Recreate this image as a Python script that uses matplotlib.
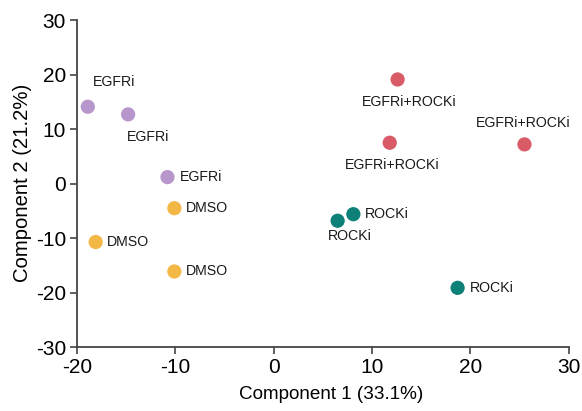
import matplotlib
matplotlib.use("Agg")
import matplotlib.pyplot as plt

plt.rcParams['font.family'] = ['Liberation Sans', 'DejaVu Sans']
plt.rcParams['axes.unicode_minus'] = False

# Data
groups = ["EGFRi", "DMSO", "EGFRi+ROCKi", "ROCKi"]
colors = {"EGFRi": "#B797CB", "DMSO": "#F2B744", "EGFRi+ROCKi": "#D95B67", "ROCKi": "#0D8077"}

egfri_x = [-18.9, -14.8, -10.8]
egfri_y = [14.1, 12.7, 1.2]
dmso_x = [-10.1, -18.1, -10.1]
dmso_y = [-4.5, -10.7, -16.1]
combo_x = [12.6, 11.8, 25.5]
combo_y = [19.1, 7.5, 7.2]
rocki_x = [8.1, 6.5, 18.7]
rocki_y = [-5.6, -6.8, -19.1]

xlabel = "Component 1 (33.1%)"
ylabel = "Component 2 (21.2%)"
xticks = [-20, -10, 0, 10, 20, 30]
yticks = [-30, -20, -10, 0, 10, 20, 30]

# label placement (offset in points, alignment)
egfri_lab = [((3.6, 18), "left"), ((-1.2, -16.6), "left"), ((8.6, 0), "left")]
dmso_lab = [((8.6, 0), "left"), ((8.1, 0), "left"), ((8.6, 0), "left")]
combo_lab = [((8.3, -16.3), "center"), ((1.5, -16), "center"), ((-1.1, 15.1), "center")]
rocki_lab = [((8.4, 0), "left"), ((8.6, -11), "center"), ((8.6, 0), "left")]

series = [
    ("EGFRi", egfri_x, egfri_y, egfri_lab),
    ("DMSO", dmso_x, dmso_y, dmso_lab),
    ("EGFRi+ROCKi", combo_x, combo_y, combo_lab),
    ("ROCKi", rocki_x, rocki_y, rocki_lab),
]

fig = plt.figure(figsize=(5.82, 4.11), dpi=100)
ax = fig.add_axes([0.1323, 0.155, 0.9772 - 0.1323, 0.9513 - 0.155])

for name, xs, ys, labs in series:
    ax.scatter(xs, ys, s=105, color=colors[name], edgecolors='none', zorder=3)
    for x, y, (off, ha) in zip(xs, ys, labs):
        ax.annotate(name, (x, y), xytext=off, textcoords='offset points',
                    ha=ha, va='center', fontsize=10.2, color='#1a1a1a')

ax.set_xlim(-20, 30)
ax.set_ylim(-30, 30)
ax.set_xticks(xticks)
ax.set_yticks(yticks)
ax.tick_params(labelsize=15, length=5, width=1.2, color='#444444', pad=3)
for s in ['top', 'right']:
    ax.spines[s].set_visible(False)
for s in ['left', 'bottom']:
    ax.spines[s].set_linewidth(1.3)
    ax.spines[s].set_color('#444444')

ax.set_xlabel(xlabel, fontsize=13.6)
ax.xaxis.set_label_coords(0.516, -0.118)
ax.set_ylabel(ylabel, fontsize=14.6)
ax.yaxis.set_label_coords(-0.092, 0.501)

fig.savefig("out.png", dpi=100)
